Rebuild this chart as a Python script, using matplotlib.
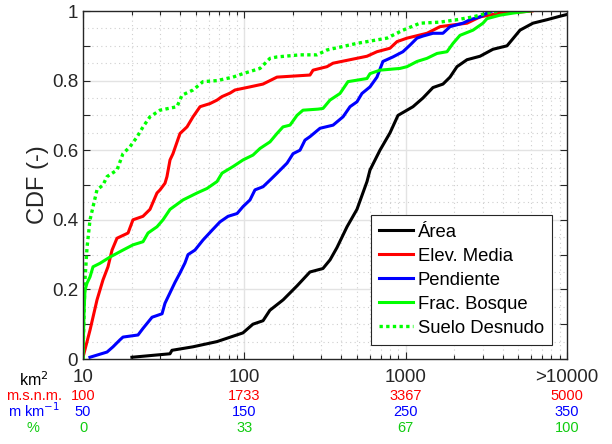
import numpy as np
import matplotlib
matplotlib.use("Agg")
import matplotlib.pyplot as plt
from matplotlib.ticker import FixedLocator, NullFormatter, FixedFormatter

plt.rcParams['font.family'] = ['Liberation Sans', 'DejaVu Sans']

# ---- Data (native units) ----
area_km2 = [20.1, 34.6, 35.6, 48, 67.7, 98, 113, 130.6, 144, 174, 212, 255, 307, 340, 375,
            433, 499, 576, 601, 693, 800, 896, 1110, 1280, 1476, 1703, 1883, 2080, 2400,
            2890, 3475, 4250, 5115, 6150, 7520, 9050, 10000]
area_cdf = [0.005, 0.015, 0.025, 0.035, 0.05, 0.075, 0.10, 0.11, 0.14, 0.17, 0.21, 0.25, 0.26,
            0.285, 0.32, 0.38, 0.43, 0.51, 0.543, 0.60, 0.65, 0.70, 0.725, 0.75, 0.78, 0.79,
            0.81, 0.84, 0.86, 0.87, 0.89, 0.90, 0.945, 0.965, 0.975, 0.985, 0.99]

elev_m = [100, 171, 242, 302, 353, 394, 444, 556, 606, 707, 778, 849, 880, 930, 950, 981, 1011,
          1082, 1153, 1214, 1285, 1386, 1457, 1507, 1588, 1639, 1791, 1922, 1993, 2064, 2398,
          2429, 2499, 2570, 2631, 2803, 2975, 3076, 3208, 3279, 3380, 3583, 3714, 3846, 3988,
          4119, 4322, 4524, 4646]
elev_cdf = [0.005, 0.083, 0.17, 0.227, 0.265, 0.313, 0.347, 0.362, 0.40, 0.41, 0.43, 0.477,
            0.486, 0.505, 0.524, 0.572, 0.59, 0.648, 0.667, 0.696, 0.725, 0.734, 0.744, 0.754,
            0.764, 0.773, 0.782, 0.79, 0.80, 0.81, 0.816, 0.83, 0.835, 0.84, 0.85, 0.86, 0.87,
            0.883, 0.893, 0.912, 0.922, 0.936, 0.955, 0.96, 0.965, 0.983, 0.994, 0.997, 1.0]

slope_m_km = [54.3, 64.9, 68.6, 72.9, 74.8, 84.1, 87.2, 92.8, 99.0, 100.8, 103.9, 107.0, 110.1,
              113.2, 115.1, 119.4, 124.4, 130.0, 134.9, 139.9, 145.5, 149.2, 153.5, 156.6,
              161.6, 165.9, 170.3, 176.5, 180.2, 184.5, 187.6, 190.7, 196.9, 205.0, 211.2,
              215.5, 219.8, 222.9, 227.9, 232.2, 235.9, 242.1, 248.3, 252.7, 257.0, 260.7,
              266.9, 273.1, 277.5, 285.5, 289.9, 296.1, 300.4, 303.5]
slope_cdf = [0.005, 0.02, 0.035, 0.055, 0.063, 0.069, 0.088, 0.12, 0.13, 0.16, 0.19, 0.22, 0.247,
             0.276, 0.30, 0.313, 0.342, 0.37, 0.394, 0.41, 0.418, 0.438, 0.457, 0.486, 0.495,
             0.514, 0.534, 0.563, 0.59, 0.60, 0.629, 0.639, 0.663, 0.672, 0.696, 0.725, 0.739,
             0.763, 0.782, 0.81, 0.855, 0.868, 0.883, 0.902, 0.922, 0.928, 0.936, 0.936, 0.955,
             0.965, 0.975, 0.983, 0.994, 1.0]

forest_pct = [0, 0.21, 0.41, 0.83, 1.45, 2.07, 3.51, 5.58, 8.26, 10.33, 12.40, 13.43, 15.29,
              16.53, 17.98, 20.66, 23.55, 25.62, 27.69, 28.72, 31.0, 33.06, 35.12, 36.57, 38.64,
              40.08, 41.32, 42.77, 44.21, 45.45, 48.55, 49.59, 51.03, 53.10, 54.75, 58.68, 59.30,
              61.36, 65.50, 66.94, 69.01, 71.07, 73.14, 75.21, 76.45, 77.89, 80.58, 82.64, 83.47,
              86.16, 88.84, 92.36]
forest_cdf = [0.005, 0.13, 0.198, 0.218, 0.236, 0.265, 0.275, 0.293, 0.313, 0.328, 0.337, 0.362,
              0.38, 0.40, 0.43, 0.457, 0.477, 0.49, 0.51, 0.534, 0.553, 0.572, 0.586, 0.605,
              0.624, 0.648, 0.667, 0.672, 0.70, 0.715, 0.718, 0.72, 0.744, 0.763, 0.797, 0.806,
              0.82, 0.83, 0.835, 0.84, 0.855, 0.864, 0.878, 0.883, 0.907, 0.93, 0.945, 0.965,
              0.978, 0.988, 0.994, 1.0]

bare_pct = [0, 0.21, 0.41, 0.83, 1.45, 2.89, 4.13, 4.96, 7.02, 8.26, 9.71, 11.16, 12.40, 13.84,
            15.91, 19.42, 20.45, 22.73, 24.79, 27.69, 30.99, 33.06, 36.57, 38.64, 40.08, 44.83,
            48.35, 50.41, 56.61, 62.81, 66.12, 69.63, 73.76, 77.27, 80.58, 83.47, 86.16]
bare_cdf = [0.0, 0.13, 0.227, 0.32, 0.40, 0.486, 0.50, 0.524, 0.543, 0.59, 0.61, 0.638, 0.667,
            0.696, 0.715, 0.725, 0.758, 0.773, 0.797, 0.80, 0.81, 0.82, 0.835, 0.864, 0.868,
            0.874, 0.874, 0.888, 0.907, 0.922, 0.945, 0.965, 0.968, 0.975, 0.983, 0.994, 1.0]

area_ticks = [10, 100, 1000, 10000]
area_ticklabels = ['10', '100', '1000', '>10000']
elev_ticks = [100, 1733, 3367, 5000]
slope_ticks = [50, 150, 250, 350]
pct_ticks = [0, 33, 67, 100]
legend_labels = ['Área', 'Elev. Media', 'Pendiente', 'Frac. Bosque', 'Suelo Desnudo']


def to_axis(v, lo, hi):
    v = np.asarray(v, dtype=float)
    return 10 ** (1 + 3 * (v - lo) / (hi - lo))


fig = plt.figure(figsize=(6.12, 4.44), dpi=100)
ax = fig.add_axes([83 / 612, 1 - 359 / 444, 484 / 612, 348 / 444])
ax.set_xscale('log')
ax.set_xlim(10, 10000)
ax.set_ylim(0, 1)

# grid (MATLAB style)
for d in [100, 1000]:
    ax.axvline(d, color='#e3e3e3', lw=1.0, zorder=0)
for d in range(1, 4):
    for k in range(2, 10):
        ax.axvline(k * 10 ** d, color='#cfcfcf', lw=0.8, ls=(0, (1, 3)), zorder=0)
for yv in np.arange(0.2, 1.0, 0.2):
    ax.axhline(yv, color='#e3e3e3', lw=1.0, zorder=0)
for yv in np.arange(0.05, 1.0, 0.05):
    if abs(yv / 0.2 - round(yv / 0.2)) > 1e-6:
        ax.axhline(yv, color='#cfcfcf', lw=0.8, ls=(0, (1, 3)), zorder=0)

lw = 2.2
ax.plot(area_km2, area_cdf, color='black', lw=lw, label=legend_labels[0])
ax.plot(to_axis(elev_m, 100, 5000), elev_cdf, color='red', lw=lw, label=legend_labels[1])
ax.plot(to_axis(slope_m_km, 50, 350), slope_cdf, color='blue', lw=lw, label=legend_labels[2])
ax.plot(to_axis(forest_pct, 0, 100), forest_cdf, color='#00ff00', lw=lw, label=legend_labels[3])
ax.plot(to_axis(bare_pct, 0, 100), bare_cdf, color='#00ff00', lw=2.4, ls=(0, (1, 1)),
        label=legend_labels[4])

# ticks
ax.xaxis.set_major_locator(FixedLocator(area_ticks))
ax.xaxis.set_major_formatter(FixedFormatter(area_ticklabels))
ax.xaxis.set_minor_locator(FixedLocator([k * 10 ** d for d in range(1, 4) for k in range(2, 10)]))
ax.xaxis.set_minor_formatter(NullFormatter())
ax.yaxis.set_major_locator(FixedLocator(np.round(np.arange(0, 1.01, 0.2), 2)))
ax.yaxis.set_major_formatter(FixedFormatter(['0', '0.2', '0.4', '0.6', '0.8', '1']))
ax.yaxis.set_minor_locator(FixedLocator(np.round(np.arange(0.1, 1.0, 0.2), 2)))
ax.tick_params(which='both', direction='in', top=True, right=True, color='#262626', width=0.8)
ax.tick_params(which='major', length=5, labelsize=13.5, labelcolor='#262626')
ax.tick_params(which='minor', length=5)
ax.tick_params(axis='x', which='minor', length=3)
ax.tick_params(axis='x', which='major', pad=7)
for s in ax.spines.values():
    s.set_color('#262626')
    s.set_linewidth(1.0)

ax.set_ylabel('CDF (-)', fontsize=17, color='#262626', labelpad=2)

# secondary rows under x axis
tr = ax.get_xaxis_transform()
rows = [(elev_ticks, 'red', -0.107), (slope_ticks, 'blue', -0.152), (pct_ticks, '#11cc11', -0.198)]
for vals, col, yy in rows:
    for pos, v in zip(area_ticks, vals):
        ax.text(pos, yy, str(v), transform=tr, ha='center', va='center', color=col, fontsize=10.5)

fig.text(34 / 612, 1 - 380 / 444, 'km$^2$', ha='center', va='center', fontsize=11.5, color='black')
fig.text(34 / 612, 1 - 396 / 444, 'm.s.n.m.', ha='center', va='center', fontsize=10.5, color='red')
fig.text(34 / 612, 1 - 411 / 444, 'm km$^{-1}$', ha='center', va='center', fontsize=10.5, color='blue')
fig.text(33 / 612, 1 - 428 / 444, '%', ha='center', va='center', fontsize=10.5, color='#11cc11')

leg = ax.legend(loc='lower right', bbox_to_anchor=(0.969, 0.040), fontsize=13.3, frameon=True,
                fancybox=False, framealpha=1, edgecolor='#262626', handlelength=1.8,
                handletextpad=0.27, borderpad=0.45, labelspacing=0.38, borderaxespad=0)
leg.get_frame().set_linewidth(0.8)

fig.savefig('out.png', dpi=100)
